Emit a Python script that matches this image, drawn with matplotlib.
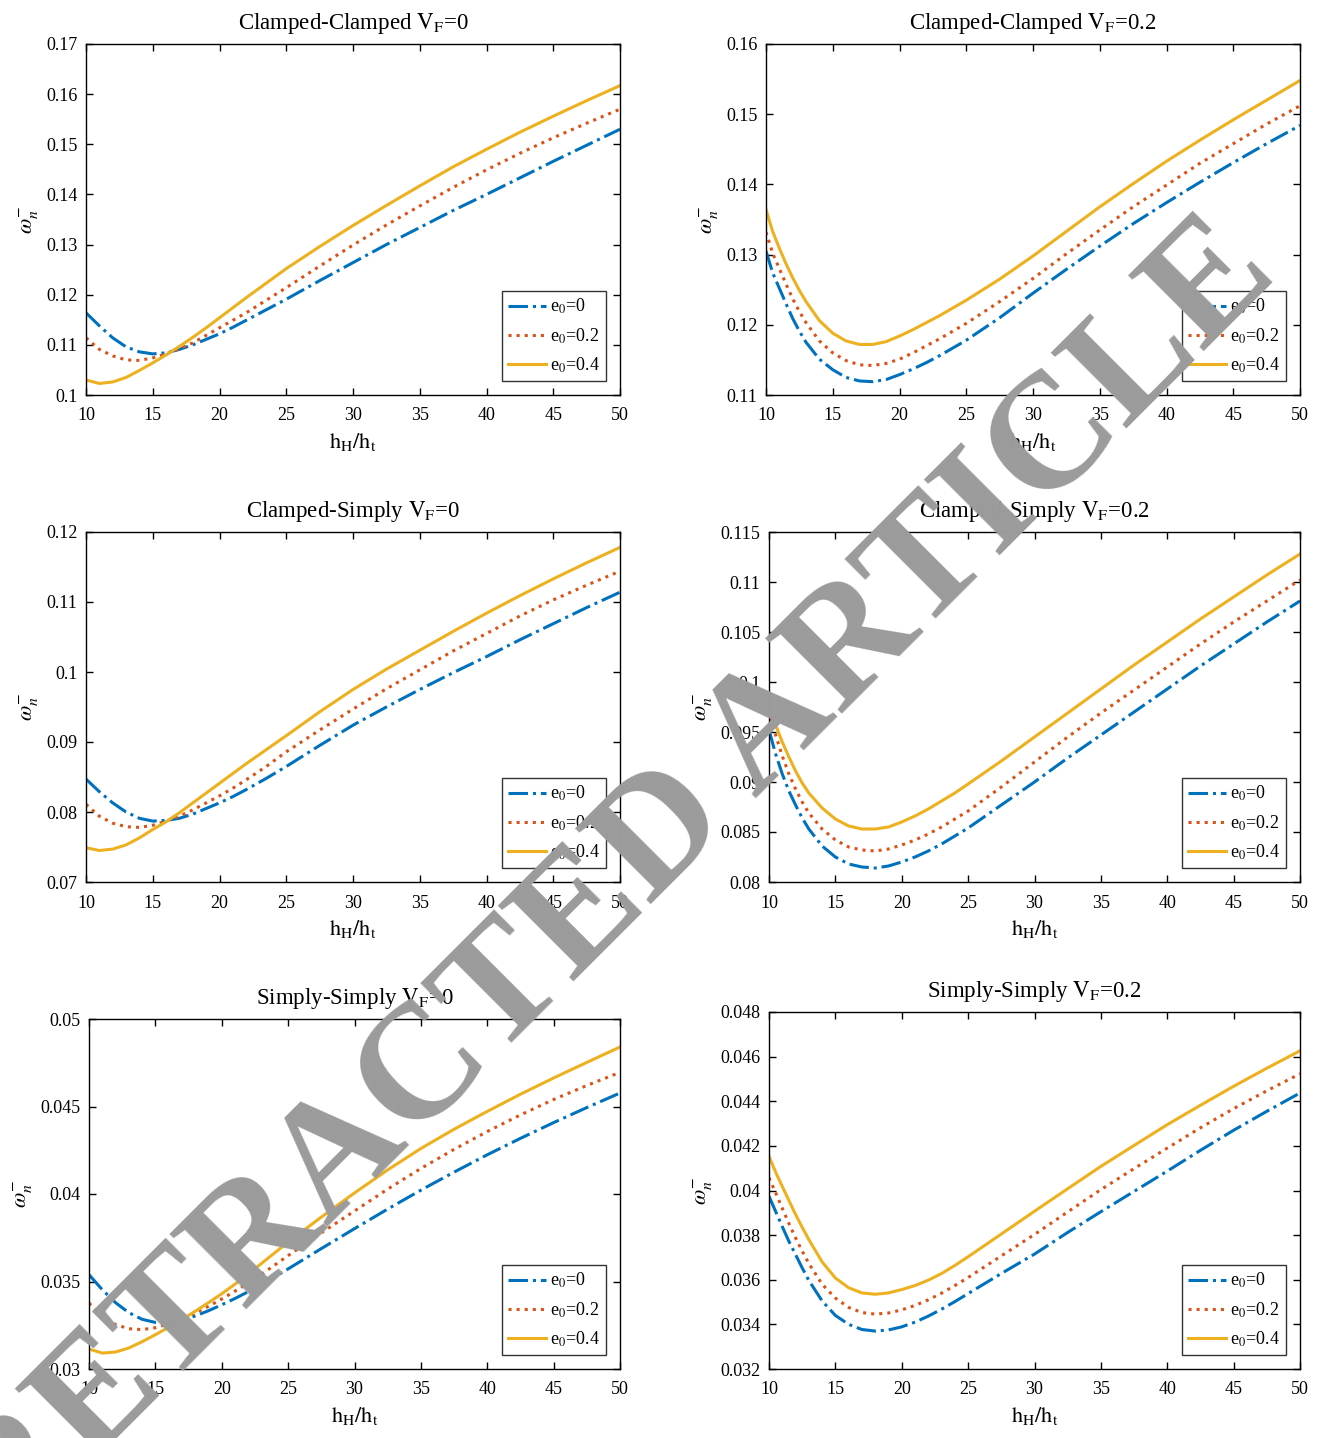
import matplotlib
matplotlib.use("Agg")
import matplotlib.pyplot as plt
from matplotlib.ticker import FuncFormatter

plt.rcParams["font.family"] = ["Liberation Serif", "DejaVu Serif"]
plt.rcParams["mathtext.fontset"] = "stix"

# h_H/h_t sample positions
x_left = [10, 11, 12, 13, 14, 15, 16, 17, 18, 19, 20, 21, 22, 23.5, 25,
          27.5, 30, 32.5, 35, 37.5, 40, 42.5, 45, 47.5, 50]
x_right = [10, 10.5, 11, 11.5, 12, 12.5, 13, 14, 15, 16, 17, 18, 19, 20, 21, 22, 23, 24, 25,
           27.5, 30, 32.5, 35, 37.5, 40, 42.5, 45, 47.5, 50]

# Clamped-Clamped, VF=0
cc0_e0 = [0.1164, 0.1138, 0.1114, 0.1096, 0.1086, 0.1082, 0.1084, 0.1091, 0.1100, 0.1111, 0.1122,
          0.1135, 0.1149, 0.1170, 0.1191, 0.1228, 0.1264, 0.1300, 0.1334, 0.1368, 0.1400, 0.1433,
          0.1466, 0.1498, 0.1530]
cc0_e2 = [0.1114, 0.1091, 0.1078, 0.1070, 0.1069, 0.1074, 0.1082, 0.1092, 0.1104, 0.1119, 0.1134,
          0.1149, 0.1164, 0.1189, 0.1214, 0.1257, 0.1299, 0.1339, 0.1377, 0.1414, 0.1449, 0.1482,
          0.1513, 0.1542, 0.1570]
cc0_e4 = [0.1030, 0.1023, 0.1026, 0.1035, 0.1049, 0.1064, 0.1080, 0.1097, 0.1115, 0.1134, 0.1154,
          0.1174, 0.1194, 0.1223, 0.1252, 0.1296, 0.1338, 0.1378, 0.1417, 0.1455, 0.1490, 0.1524,
          0.1556, 0.1587, 0.1617]

# Clamped-Clamped, VF=0.2
cc2_e0 = [0.1305, 0.1274, 0.1252, 0.1230, 0.1209, 0.1191, 0.1175, 0.1151, 0.1136, 0.1125, 0.1120,
          0.1119, 0.1122, 0.1129, 0.1137, 0.1146, 0.1156, 0.1167, 0.1178, 0.1210, 0.1245, 0.1279,
          0.1312, 0.1344, 0.1374, 0.1403, 0.1431, 0.1458, 0.1484]
cc2_e2 = [0.1332, 0.1302, 0.1280, 0.1258, 0.1237, 0.1219, 0.1203, 0.1177, 0.1160, 0.1149, 0.1143,
          0.1142, 0.1145, 0.1151, 0.1160, 0.1170, 0.1180, 0.1191, 0.1202, 0.1233, 0.1266, 0.1301,
          0.1335, 0.1368, 0.1399, 0.1430, 0.1458, 0.1486, 0.1512]
cc2_e4 = [0.1364, 0.1333, 0.1309, 0.1287, 0.1267, 0.1249, 0.1233, 0.1206, 0.1188, 0.1177, 0.1172,
          0.1172, 0.1176, 0.1184, 0.1193, 0.1203, 0.1213, 0.1224, 0.1235, 0.1265, 0.1298, 0.1333,
          0.1368, 0.1401, 0.1433, 0.1463, 0.1492, 0.1520, 0.1548]

# Clamped-Simply, VF=0
cs0_e0 = [0.0847, 0.0829, 0.0813, 0.0800, 0.0791, 0.0787, 0.0788, 0.0791, 0.0797, 0.0805, 0.0813,
          0.0822, 0.0832, 0.0848, 0.0865, 0.0895, 0.0924, 0.0950, 0.0975, 0.0999, 0.1022, 0.1046,
          0.1069, 0.1092, 0.1114]
cs0_e2 = [0.0811, 0.0794, 0.0784, 0.0779, 0.0778, 0.0781, 0.0787, 0.0794, 0.0803, 0.0813, 0.0823,
          0.0834, 0.0846, 0.0865, 0.0886, 0.0917, 0.0947, 0.0976, 0.1003, 0.1030, 0.1055, 0.1080,
          0.1103, 0.1124, 0.1144]
cs0_e4 = [0.0749, 0.0745, 0.0747, 0.0753, 0.0763, 0.0775, 0.0786, 0.0799, 0.0813, 0.0827, 0.0841,
          0.0855, 0.0869, 0.0889, 0.0909, 0.0943, 0.0975, 0.1004, 0.1031, 0.1058, 0.1084, 0.1109,
          0.1133, 0.1156, 0.1178]

# Clamped-Simply, VF=0.2
cs2_e0 = [0.0952, 0.0928, 0.0908, 0.0891, 0.0877, 0.0864, 0.0853, 0.0836, 0.0825, 0.0818, 0.0815,
          0.0814, 0.0816, 0.0820, 0.0825, 0.0831, 0.0838, 0.0846, 0.0854, 0.0877, 0.0900, 0.0924,
          0.0947, 0.0970, 0.0993, 0.1016, 0.1038, 0.1060, 0.1081]
cs2_e2 = [0.0972, 0.0947, 0.0926, 0.0908, 0.0893, 0.0880, 0.0869, 0.0853, 0.0842, 0.0835, 0.0832,
          0.0831, 0.0833, 0.0837, 0.0842, 0.0848, 0.0855, 0.0863, 0.0871, 0.0895, 0.0920, 0.0945,
          0.0969, 0.0992, 0.1015, 0.1038, 0.1060, 0.1081, 0.1102]
cs2_e4 = [0.0978, 0.0957, 0.0940, 0.0925, 0.0911, 0.0899, 0.0889, 0.0874, 0.0863, 0.0856, 0.0853,
          0.0853, 0.0855, 0.0860, 0.0866, 0.0873, 0.0881, 0.0889, 0.0898, 0.0921, 0.0945, 0.0969,
          0.0993, 0.1017, 0.1040, 0.1063, 0.1085, 0.1107, 0.1128]

# Simply-Simply, VF=0
ss0_e0 = [0.03539, 0.03453, 0.03379, 0.03322, 0.03284, 0.03266, 0.03265, 0.03279, 0.03303, 0.03333,
          0.03367, 0.03403, 0.03442, 0.03505, 0.03572, 0.03688, 0.03802, 0.03914, 0.04022, 0.04125,
          0.04224, 0.04318, 0.04408, 0.04494, 0.04577]
ss0_e2 = [0.03377, 0.03301, 0.03254, 0.03230, 0.03225, 0.03236, 0.03258, 0.03286, 0.03320, 0.03358,
          0.03400, 0.03445, 0.03492, 0.03568, 0.03648, 0.03778, 0.03903, 0.04028, 0.04146, 0.04255,
          0.04357, 0.04452, 0.04540, 0.04620, 0.04695]
ss0_e4 = [0.03114, 0.03091, 0.03097, 0.03120, 0.03156, 0.03196, 0.03238, 0.03282, 0.03330, 0.03379,
          0.03430, 0.03485, 0.03543, 0.03634, 0.03725, 0.03868, 0.04006, 0.04138, 0.04260, 0.04370,
          0.04472, 0.04570, 0.04663, 0.04752, 0.04840]

# Simply-Simply, VF=0.2
ss2_e0 = [0.03974, 0.03906, 0.03838, 0.03772, 0.03713, 0.03653, 0.03597, 0.03505, 0.03440, 0.03400,
          0.03377, 0.03370, 0.03375, 0.03389, 0.03410, 0.03437, 0.03468, 0.03502, 0.03538, 0.03628,
          0.03715, 0.03812, 0.03905, 0.03996, 0.04087, 0.04180, 0.04270, 0.04355, 0.04437]
ss2_e2 = [0.04057, 0.03990, 0.03920, 0.03852, 0.03788, 0.03728, 0.03673, 0.03580, 0.03518, 0.03476,
          0.03453, 0.03446, 0.03451, 0.03465, 0.03485, 0.03510, 0.03540, 0.03574, 0.03610, 0.03707,
          0.03803, 0.03904, 0.04004, 0.04098, 0.04190, 0.04281, 0.04367, 0.04447, 0.04523]
ss2_e4 = [0.04153, 0.04082, 0.04018, 0.03955, 0.03893, 0.03835, 0.03780, 0.03680, 0.03608, 0.03564,
          0.03541, 0.03535, 0.03541, 0.03556, 0.03574, 0.03598, 0.03628, 0.03664, 0.03703, 0.03805,
          0.03907, 0.04008, 0.04108, 0.04202, 0.04295, 0.04382, 0.04467, 0.04548, 0.04626]

labels = [r"e$_\mathrm{0}$=0", r"e$_\mathrm{0}$=0.2", r"e$_\mathrm{0}$=0.4"]
colors = ["#0072BD", "#D95319", "#EDB120"]
styles = ["-.", ":", "-"]

W, H = 1326, 1438
panels = [
    # title, VF, x, series, ylim, ystep, (left, top, right, bottom) in px
    ("Clamped-Clamped", "0", x_left, [cc0_e0, cc0_e2, cc0_e4], (0.10, 0.17), 0.01, (86, 44, 620, 395)),
    ("Clamped-Clamped", "0.2", x_right, [cc2_e0, cc2_e2, cc2_e4], (0.11, 0.16), 0.01, (766, 44, 1300, 395)),
    ("Clamped-Simply", "0", x_left, [cs0_e0, cs0_e2, cs0_e4], (0.07, 0.12), 0.01, (86, 532, 620, 882)),
    ("Clamped-Simply", "0.2", x_right, [cs2_e0, cs2_e2, cs2_e4], (0.08, 0.115), 0.005, (769, 532, 1300, 882)),
    ("Simply-Simply", "0", x_left, [ss0_e0, ss0_e2, ss0_e4], (0.03, 0.05), 0.005, (89, 1019, 620, 1369)),
    ("Simply-Simply", "0.2", x_right, [ss2_e0, ss2_e2, ss2_e4], (0.032, 0.048), 0.002, (769, 1012, 1300, 1369)),
]

fig = plt.figure(figsize=(W / 100, H / 100), dpi=100)

for name, vf, xs, series, (y0, y1), ystep, (l, t, r, b) in panels:
    ax = fig.add_axes([l / W, 1 - b / H, (r - l) / W, (b - t) / H])
    for ys, lab, c, ls in zip(series, labels, colors, styles):
        ax.plot(xs, ys, ls, color=c, lw=2.2, label=lab)
    ax.set_xlim(10, 50)
    ax.set_ylim(y0, y1)
    ax.set_xticks(range(10, 51, 5))
    n = int(round((y1 - y0) / ystep))
    ax.set_yticks([y0 + i * ystep for i in range(n + 1)])
    ax.yaxis.set_major_formatter(FuncFormatter(lambda v, p: f"{round(v, 4):g}"))
    ax.tick_params(direction="in", top=True, right=True, length=5, width=1, labelsize=13)
    ax.tick_params(axis="x", pad=9)
    ax.tick_params(axis="y", pad=6)
    for s in ax.spines.values():
        s.set_linewidth(1)
    ax.set_title(name + r" $\mathrm{V_F}$=" + vf, fontsize=16.5, pad=11)
    ax.set_xlabel(r"$\mathrm{h_H/h_t}$", fontsize=16, labelpad=5)
    ax.set_ylabel(r"$\omega^{-}_{n}$", fontsize=16, labelpad=4)
    leg = ax.legend(loc="lower right", fontsize=13, fancybox=False, edgecolor="#333333",
                    framealpha=1, handlelength=2.1, handletextpad=0.25, borderpad=0.35,
                    labelspacing=0.55, borderaxespad=0.75)
    leg.get_frame().set_linewidth(1)

# watermark
fig.text(615 / W, 1 - 885 / H, "RETRACTED ARTICLE", rotation=45, fontsize=118,
         fontweight="bold", color="#9b9b9b", ha="center", va="center",
         rotation_mode="anchor", zorder=10)

fig.savefig("out.png", dpi=100)
